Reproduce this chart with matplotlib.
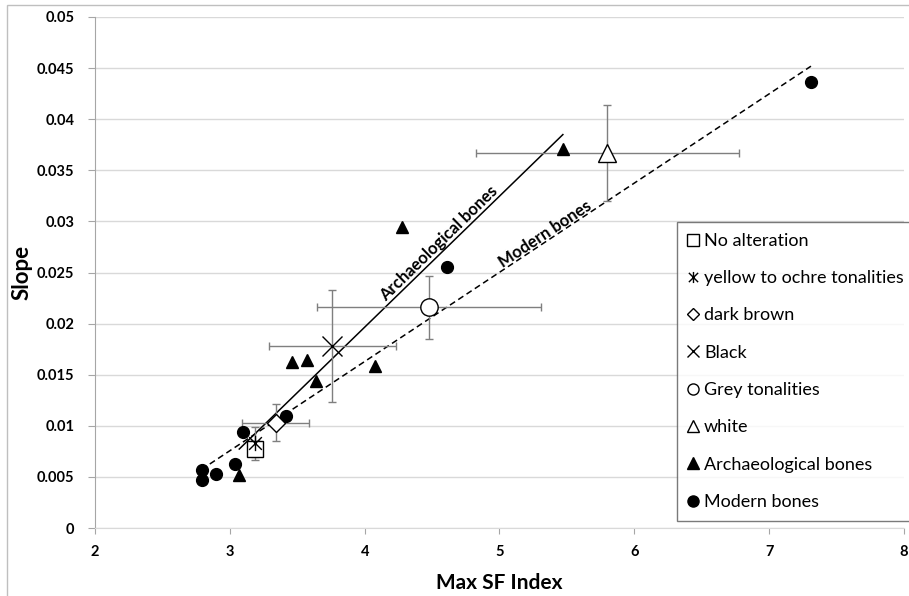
import numpy as np
import matplotlib
matplotlib.use("Agg")
import matplotlib.pyplot as plt
from matplotlib.path import Path
from matplotlib.patches import Rectangle
from matplotlib.lines import Line2D

plt.rcParams['font.family'] = ['Lato', 'DejaVu Sans']

# ---- data ----
arch_x = [3.07, 3.46, 3.57, 3.64, 4.08, 4.28, 5.47]
arch_y = [0.0052, 0.0162, 0.0164, 0.0144, 0.0159, 0.0295, 0.0371]

mod_x = [2.79, 2.79, 2.90, 3.04, 3.10, 3.42, 4.61, 7.31]
mod_y = [0.0047, 0.0057, 0.0053, 0.0063, 0.0094, 0.0110, 0.0255, 0.0436]

cat_names = ["No alteration", "yellow to ochre tonalities", "dark brown",
             "Black", "Grey tonalities", "white"]
cat_x = [3.19, 3.19, 3.34, 3.76, 4.48, 5.80]
cat_y = [0.0077, 0.0083, 0.0103, 0.0178, 0.0216, 0.0367]
cat_xerr = [0.05, 0.03, 0.25, 0.47, 0.83, 0.975]
cat_yerr = [0.0008, 0.0016, 0.0018, 0.0055, 0.0031, 0.0047]

# trend lines (slope, intercept)
arch_trend = (0.01282, -0.03163)
mod_trend = (0.00873, -0.01863)

# ---- figure ----
fig = plt.figure(figsize=(9.09, 5.96), dpi=100)
ax = fig.add_axes([95/909, 68/596, 809/909, 511/596])

ax.set_xlim(2, 8)
ax.set_ylim(0, 0.05)
ax.set_xticks(np.arange(2, 9, 1))
ax.set_yticks(np.arange(0, 0.0501, 0.005))
ax.set_xticklabels([str(v) for v in range(2, 9)])
ax.set_yticklabels(["0", "0.005", "0.01", "0.015", "0.02", "0.025", "0.03",
                    "0.035", "0.04", "0.045", "0.05"])
for lab in ax.get_xticklabels() + ax.get_yticklabels():
    lab.set_fontweight('bold')
    lab.set_fontsize(10.5)
ax.tick_params(axis='y', length=5, color='#a6a6a6', pad=10)
ax.tick_params(axis='x', length=4, color='#a6a6a6', pad=8)
ax.grid(axis='y', color='#d9d9d9', linewidth=1)
ax.set_axisbelow(True)
for s in ['top', 'right']:
    ax.spines[s].set_visible(False)
ax.spines['left'].set_color('#a6a6a6')
ax.spines['bottom'].set_color('#d9d9d9')

ax.set_xlabel("Max SF Index", fontsize=15, fontweight='bold', labelpad=10)
ax.set_ylabel("Slope", fontsize=16, fontweight='bold')
ax.yaxis.set_label_coords((33 - 95) / 809, 0.5)

# trend lines over data range
ax_x = np.array([min(arch_x), max(arch_x)])
ax.plot(ax_x, arch_trend[0]*ax_x + arch_trend[1], color='black', lw=1.1, zorder=3)
mx = np.array([min(mod_x), max(mod_x)])
ax.plot(mx, mod_trend[0]*mx + mod_trend[1], color='black', lw=1.1,
        ls=(0, (4, 2.5)), zorder=3)

# points
ax.plot(arch_x, arch_y, ls='none', marker='^', color='black', ms=8.5, zorder=5)
ax.plot(mod_x, mod_y, ls='none', marker='o', color='black', ms=8.5, zorder=5)

# asterisk marker: X plus vertical bar
ast = Path([(-1, -1), (1, 1), (-1, 1), (1, -1), (0, -1.2), (0, 1.2)],
           [Path.MOVETO, Path.LINETO, Path.MOVETO, Path.LINETO, Path.MOVETO, Path.LINETO])
cat_markers = ['s', ast, 'D', 'x', 'o', '^']
cat_ms = [12, 11, 9, 14, 12.5, 13]

for i in range(len(cat_names)):
    ax.errorbar(cat_x[i], cat_y[i], xerr=cat_xerr[i], yerr=cat_yerr[i],
                fmt='none', ecolor='#7f7f7f', elinewidth=1, capsize=3, capthick=1,
                zorder=4)
    ax.plot(cat_x[i], cat_y[i], ls='none', marker=cat_markers[i], ms=cat_ms[i],
            mfc='white' if cat_markers[i] not in ('x', ast) else 'none',
            mec='black', mew=1, zorder=6)

# line labels
fig.canvas.draw()
def angle_of(trend):
    p1 = ax.transData.transform((3, trend[0]*3 + trend[1]))
    p2 = ax.transData.transform((5, trend[0]*5 + trend[1]))
    return np.degrees(np.arctan2(p2[1]-p1[1], p2[0]-p1[0]))

ax.text(4.55, 0.0278, "Archaeological bones", rotation=angle_of(arch_trend),
        rotation_mode='anchor', ha='center', va='center', fontsize=12,
        fontweight='bold', zorder=7)
ax.text(5.34, 0.0288, "Modern bones", rotation=angle_of(mod_trend),
        rotation_mode='anchor', ha='center', va='center', fontsize=12,
        fontweight='bold', zorder=7)

# legend
handles = []
for i in range(len(cat_names)):
    handles.append(Line2D([], [], ls='none', marker=cat_markers[i], ms=8 if cat_markers[i] != 'D' else 6,
                          mfc='white' if cat_markers[i] not in ('x', ast) else 'none',
                          mec='black', mew=1))
handles.append(Line2D([], [], ls='none', marker='^', color='black', ms=8))
handles.append(Line2D([], [], ls='none', marker='o', color='black', ms=8))
labels = cat_names + ["Archaeological bones", "Modern bones"]
leg = fig.legend(handles, labels, loc='upper left',
                 bbox_to_anchor=(677/909, 1 - 222/596), fontsize=13,
                 frameon=True, fancybox=False, handlelength=0.6, handletextpad=0.3,
                 labelspacing=1.18, borderpad=0.6, borderaxespad=0)
leg.get_frame().set_edgecolor('#595959')
leg.get_frame().set_linewidth(1)
leg.set_zorder(10)

# outer chart border
fig.patches.append(Rectangle((7/909, -0.01), 1.0, 1 - 5/596 + 0.01,
                             transform=fig.transFigure, fill=False,
                             edgecolor='#bfbfbf', lw=1))

fig.savefig("out.png", dpi=100)
